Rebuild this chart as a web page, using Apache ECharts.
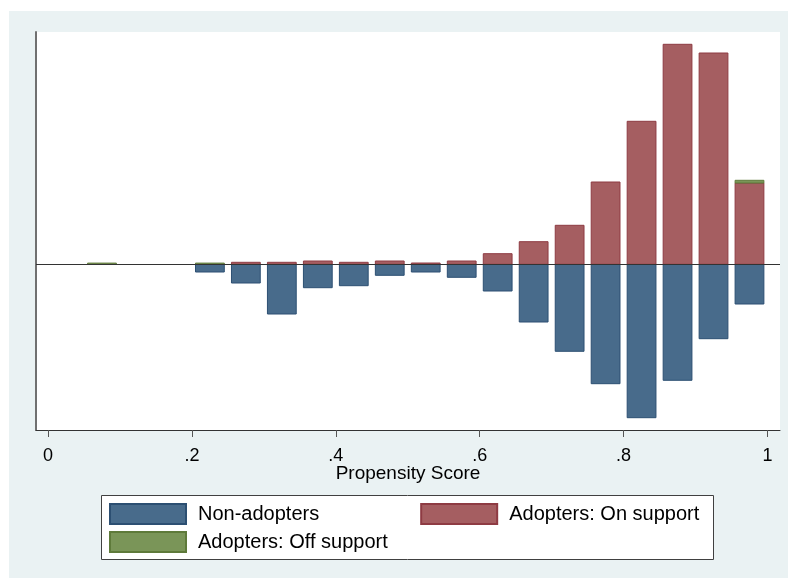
<!DOCTYPE html>
<html>
<head>
<meta charset="utf-8">
<script src="https://cdn.jsdelivr.net/npm/echarts@6/dist/echarts.min.js"></script>
<style>html,body{margin:0;padding:0;background:#fff}#c{width:788px;height:580px}</style>
</head>
<body>
<div id="c"></div>
<script>
// ---- data ----
const binCenters   = [0.075, 0.225, 0.275, 0.325, 0.375, 0.425, 0.475, 0.525, 0.575, 0.625, 0.675, 0.725, 0.775, 0.825, 0.875, 0.925, 0.975];
const nonAdopters  = [0, -7.7, -18.7, -49.7, -23.4, -21.4, -11, -7.7, -13, -26.7, -57.7, -87, -119.4, -153.4, -116, -74.4, -39.7];
const onSupport    = [0, 0, 2, 2, 3.3, 2, 3.3, 1.3, 3.3, 10.6, 22.6, 39, 82.3, 143, 220, 211.3, 81.3];
const offSupport   = [1.2, 1.2, 0, 0, 0, 0, 0, 0, 0, 0, 0, 0, 0, 0, 0, 0, 2.7];
const xTicks       = [0, 0.2, 0.4, 0.6, 0.8, 1];
const seriesNames  = ['Non-adopters', 'Adopters: On support', 'Adopters: Off support'];
const axisTitle    = 'Propensity Score';

// ---- layout / style ----
const BAR_W = 0.04;
const FONT = '"Liberation Sans", Arial, sans-serif';
const C_BLUE = '#486B8B', C_BLUE_B = '#2C4F72';
const C_RED = '#A55E61', C_RED_B = '#8E3B43';
const C_GREEN = '#7A9558', C_GREEN_B = '#5E7A3A';

function fmtTick(v) {
  const r = Math.round(v * 10) / 10;
  if (r === 0) return '0';
  if (r === 1) return '1';
  return String(r).replace(/^0/, '');
}

const blueData  = binCenters.map((x, i) => [x, nonAdopters[i], 0]);
const redData   = binCenters.map((x, i) => [x, 0, onSupport[i]]);
const greenData = binCenters.map((x, i) => [x, onSupport[i], onSupport[i] + offSupport[i]]);

function renderBar(params, api) {
  const x = api.value(0), lo = api.value(1), hi = api.value(2);
  if (lo === hi) return null;
  const a = api.coord([x - BAR_W / 2, hi]);
  const b = api.coord([x + BAR_W / 2, lo]);
  return {
    type: 'rect',
    shape: { x: a[0], y: Math.min(a[1], b[1]), width: b[0] - a[0], height: Math.abs(b[1] - a[1]) },
    style: api.style()
  };
}

function barSeries(name, data, fill, stroke) {
  return {
    type: 'custom', name, data,
    renderItem: renderBar,
    encode: { x: 0, y: [1, 2] },
    itemStyle: { color: fill, borderColor: stroke, borderWidth: 1 },
    z: 2
  };
}

const chart = echarts.init(document.getElementById('c'), null, { renderer: 'canvas' });
chart.setOption({
  animation: false,
  backgroundColor: '#EAF2F3',
  textStyle: { fontFamily: FONT },
  graphic: [
    { type: 'rect', z: 0, shape: { x: 0, y: 0, width: 788, height: 11 }, style: { fill: '#fff' } },
    { type: 'rect', z: 0, shape: { x: 0, y: 0, width: 9, height: 580 }, style: { fill: '#fff' } },
    { type: 'rect', z: 0, shape: { x: 0, y: 578, width: 788, height: 2 }, style: { fill: '#fff' } },
    { type: 'rect', z: 1, shape: { x: 101.5, y: 495.5, width: 612, height: 64 }, style: { fill: '#fff', stroke: '#404040', lineWidth: 1 } }
  ],
  grid: { left: 36, right: 8, top: 32, bottom: 150, show: true, backgroundColor: '#fff', borderWidth: 0 },
  xAxis: {
    type: 'value', min: -0.0167, max: 1.0174,
    name: axisTitle, nameLocation: 'middle', nameGap: 34, nameMoveOverlap: false,
    nameTextStyle: { fontSize: 19, color: '#000', fontFamily: FONT },
    axisLine: { show: true, onZero: false, lineStyle: { color: '#333', width: 1 } },
    axisTick: { show: true, length: 7, customValues: xTicks, lineStyle: { color: '#555', width: 1 } },
    axisLabel: { customValues: xTicks, formatter: fmtTick, fontSize: 18, color: '#000', margin: 17, fontFamily: FONT },
    splitLine: { show: false }
  },
  yAxis: {
    type: 'value', min: -165.7, max: 232.3,
    axisLine: { show: true, onZero: false, lineStyle: { color: '#707070', width: 2 } },
    axisTick: { show: false }, axisLabel: { show: false }, splitLine: { show: false }
  },
  legend: [
    {
      data: [seriesNames[0], seriesNames[1]], left: 109, top: 503, padding: 0, z: 10,
      itemWidth: 76, itemHeight: 20, itemGap: 101, icon: 'rect',
      textStyle: { fontSize: 20, color: '#000', fontFamily: FONT, padding: [0, 0, 0, 7] }
    },
    {
      data: [seriesNames[2]], left: 109, top: 531, padding: 0, z: 10,
      itemWidth: 76, itemHeight: 20, icon: 'rect',
      textStyle: { fontSize: 20, color: '#000', fontFamily: FONT, padding: [0, 0, 0, 7] }
    }
  ],
  series: [
    barSeries(seriesNames[0], blueData, C_BLUE, C_BLUE_B),
    barSeries(seriesNames[1], redData, C_RED, C_RED_B),
    barSeries(seriesNames[2], greenData, C_GREEN, C_GREEN_B),
    {
      type: 'line', data: [], z: 5, silent: true,
      markLine: { silent: true, symbol: 'none', label: { show: false },
        lineStyle: { color: '#333', width: 1, type: 'solid' }, data: [{ yAxis: 0 }] }
    }
  ]
});
</script>
</body>
</html>
